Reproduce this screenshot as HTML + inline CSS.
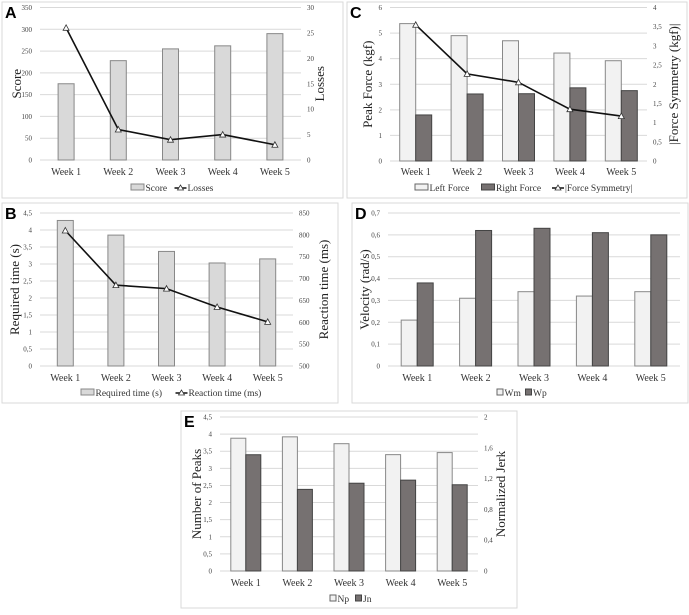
<!DOCTYPE html>
<html><head><meta charset="utf-8"><style>
body{margin:0;background:#fff;width:689px;height:610px;overflow:hidden}
svg text{font-family:"Liberation Serif",serif}
</style></head><body>
<svg id="s" width="689" height="610" viewBox="0 0 689 610" xmlns="http://www.w3.org/2000/svg"></svg>
<script>
const weeks=["Week 1","Week 2","Week 3","Week 4","Week 5"];
const scoreVals=[175,228,255,262,290];
const lossesVals=[26,6,4,5,3];
const reqTimeVals=[4.28,3.85,3.37,3.03,3.15];
const reactVals=[810,685,677,635,601];
const leftForceVals=[5.37,4.9,4.7,4.22,3.92];
const rightForceVals=[1.8,2.62,2.63,2.86,2.75];
const symVals=[3.55,2.27,2.05,1.35,1.17];
const wmVals=[0.21,0.31,0.34,0.32,0.34];
const wpVals=[0.38,0.62,0.63,0.61,0.60];
const npVals=[3.88,3.92,3.72,3.4,3.46];
const jnVals=[1.51,1.06,1.14,1.18,1.12];
const ticksA=["0","50","100","150","200","250","300","350"];
const ticksAR=["0","5","10","15","20","25","30"];
const ticksB=["0","0,5","1","1,5","2","2,5","3","3,5","4","4,5"];
const ticksBR=["500","550","600","650","700","750","800","850"];
const ticksC=["0","1","2","3","4","5","6"];
const ticksCR=["0","0,5","1","1,5","2","2,5","3","3,5","4"];
const ticksD=["0","0,1","0,2","0,3","0,4","0,5","0,6","0,7"];
const ticksE=["0","0,5","1","1,5","2","2,5","3","3,5","4","4,5"];
const ticksER=["0","0,4","0,8","1,2","1,6","2"];

const S=document.getElementById('s');const NS="http://www.w3.org/2000/svg";
const SERIF="Liberation Serif, serif";
function el(t,a,p){const e=document.createElementNS(NS,t);for(const k in a)e.setAttribute(k,a[k]);(p||S).appendChild(e);return e;}
function txt(s,a,p){if(!a['font-family'])a['font-family']=SERIF;const e=el('text',a,p);e.textContent=s;return e;}
const LIGHT="#d9d9d9",WHITE="#f2f2f2",DARK="#767171";
function num(s){return parseFloat(s.replace(',','.'));}
function chart(c){
  const g=el('g',{});
  
  
  const fr=el('rect',{x:c.fx,y:c.fy,width:c.fw,height:c.fh,fill:'#fff',stroke:'#d9d9d9'},g);
  
  const lb=txt(c.label,{x:c.fx+3,y:c.fy+16,'font-size':16,'font-weight':'bold','font-family':'Liberation Sans, sans-serif',style:'font-family:Liberation Sans,sans-serif'},g);
  
  const lmin=num(c.lt[0]),lmax=num(c.lt[c.lt.length-1]);
  const yL=v=>c.y0-(v-lmin)/(lmax-lmin)*(c.y0-c.y1);
  let yR=null;
  if(c.rt){const rmin=num(c.rt[0]),rmax=num(c.rt[c.rt.length-1]);yR=v=>c.y0-(v-rmin)/(rmax-rmin)*(c.y0-c.y1);}
  c.lt.forEach(t=>{const y=yL(num(t));
    const l=el('line',{x1:c.x0,x2:c.x1,y1:y,y2:y,stroke:'#d9d9d9','stroke-width':1},g);
    
    const tt=txt(t,{x:c.x0-8,y:y+2.5,'font-size':7,'text-anchor':'end',fill:'#444'},g);
    });
  if(c.rt)c.rt.forEach(t=>{const y=yR(num(t));
    const tt=txt(t,{x:c.x1+6,y:y+2.5,'font-size':7,fill:'#444'},g);
    });
  const cw=(c.x1-c.x0)/weeks.length;const bw=c.bw;
  const nb=c.bars.length;
  weeks.forEach((w,i)=>{const cx=c.x0+cw*(i+0.5);
    c.bars.forEach((b,j)=>{const v=b.vals[i];const yy=(b.right?yR:yL)(v);
      const x=cx-nb*bw/2+j*bw;
      const r=el('rect',{x:x,y:yy,width:bw,height:c.y0-yy,fill:b.fill,stroke:b.stroke,'stroke-width':1},g);
      });
    const wt=txt(w,{x:cx,y:c.wy,'font-size':10,'text-anchor':'middle',fill:'#333'},g);
    });
  if(c.line){const pts=c.line.vals.map((v,i)=>[c.x0+cw*(i+0.5),yR(v)]);
    const pl=el('polyline',{points:pts.map(p=>p.join(',')).join(' '),fill:'none',stroke:'#111','stroke-width':1.6},g);
    
    pts.forEach(p=>{const m=el('polygon',{points:`${p[0]},${p[1]-3} ${p[0]-3},${p[1]+2.5} ${p[0]+3},${p[1]+2.5}`,fill:'#fff',stroke:'#333','stroke-width':0.8},g);
      });}
  const lt=txt(c.ltitle,{x:0,y:0,'font-size':13,'text-anchor':'middle',fill:'#222',transform:`translate(${c.ltx},${(c.y0+c.y1)/2}) rotate(-90)`},g);
  
  if(c.rtitle){const rt=txt(c.rtitle,{x:0,y:0,'font-size':13,'text-anchor':'middle',fill:'#222',transform:`translate(${c.rtx},${(c.y0+c.y1)/2}) rotate(-90)`},g);
    }
  let x=c.lgx;const ly=c.lgy;
  c.legend.forEach(it=>{const lg=el('g',{},g);
    
    if(it.line){el('line',{x1:x,x2:x+12,y1:ly-3,y2:ly-3,stroke:'#111','stroke-width':1.5},lg);
      el('polygon',{points:`${x+6},${ly-6} ${x+3},${ly-1} ${x+9},${ly-1}`,fill:'#fff',stroke:'#333','stroke-width':0.8},lg);x+=13;}
    else{el('rect',{x:x,y:ly-7,width:it.sw,height:6,fill:it.fill,stroke:it.stroke},lg);x+=it.sw+1.5;}
    txt(it.t,{x:x,y:ly,'font-size':it.fs||9.5,fill:'#333'},lg);
    x+=it.w;});
}
chart({name:'chart-a',label:'A',fx:2,fy:2,fw:341,fh:196,x0:40,x1:301,y0:160,y1:7.5,lt:ticksA,rt:ticksAR,bw:16,wy:175,
  bars:[{key:'score',vals:scoreVals,fill:LIGHT,stroke:'#888'}],line:{key:'losses',vals:lossesVals},
  ltitle:'Score',ltx:21,rtitle:'Losses',rtx:324,lgx:131,lgy:191,
  legend:[{t:'Score',fill:LIGHT,stroke:'#888',sw:13,w:29},{t:'Losses',line:1,w:40}]});
chart({name:'chart-b',label:'B',fx:2,fy:203,fw:336,fh:200,x0:40,x1:293,y0:366,y1:213,lt:ticksB,rt:ticksBR,bw:16,wy:381,
  bars:[{key:'required-time',vals:reqTimeVals,fill:LIGHT,stroke:'#888'}],line:{key:'reaction-time',vals:reactVals},
  ltitle:'Required time (s)',ltx:19,rtitle:'Reaction time (ms)',rtx:328,lgx:81,lgy:396,
  legend:[{t:'Required time (s)',fill:LIGHT,stroke:'#888',sw:13,w:80},{t:'Reaction time (ms)',line:1,w:80}]});
chart({name:'chart-c',label:'C',fx:347,fy:2,fw:340,fh:196,x0:390,x1:647,y0:161,y1:7.5,lt:ticksC,rt:ticksCR,bw:16,wy:175,
  bars:[{key:'left-force',vals:leftForceVals,fill:WHITE,stroke:'#888'},{key:'right-force',vals:rightForceVals,fill:DARK,stroke:'#444'}],
  line:{key:'force-symmetry',vals:symVals},
  ltitle:'Peak Force (kgf)',ltx:372,rtitle:'|Force Symmetry (kgf)|',rtx:678,lgx:415,lgy:191,
  legend:[{t:'Left Force',fill:WHITE,stroke:'#666',sw:13,w:52},{t:'Right Force',fill:DARK,stroke:'#444',sw:13,w:56},{t:'|Force Symmetry|',line:1,w:70}]});
chart({name:'chart-d',label:'D',fx:352,fy:203,fw:336,fh:200,x0:388,x1:680,y0:366,y1:213,lt:ticksD,bw:16,wy:381,
  bars:[{key:'wm',vals:wmVals,fill:WHITE,stroke:'#888'},{key:'wp',vals:wpVals,fill:DARK,stroke:'#444'}],
  ltitle:'Velocity (rad/s)',ltx:369,lgx:497,lgy:396,
  legend:[{t:'Wm',fill:WHITE,stroke:'#666',sw:6,w:21},{t:'Wp',fill:DARK,stroke:'#444',sw:6,w:16}]});
chart({name:'chart-e',label:'E',fx:181,fy:411,fw:336,fh:197,x0:220,x1:478,y0:571,y1:417,lt:ticksE,rt:ticksER,bw:15,wy:586,
  bars:[{key:'np',vals:npVals,fill:WHITE,stroke:'#888'},{key:'jn',vals:jnVals,fill:DARK,stroke:'#444',right:1}],
  ltitle:'Number of Peaks',ltx:201,rtitle:'Normalized Jerk',rtx:505,lgx:330,lgy:602,
  legend:[{t:'Np',fill:WHITE,stroke:'#666',sw:6,w:18},{t:'Jn',fill:DARK,stroke:'#444',sw:6,w:14}]});
</script>
</body></html>
